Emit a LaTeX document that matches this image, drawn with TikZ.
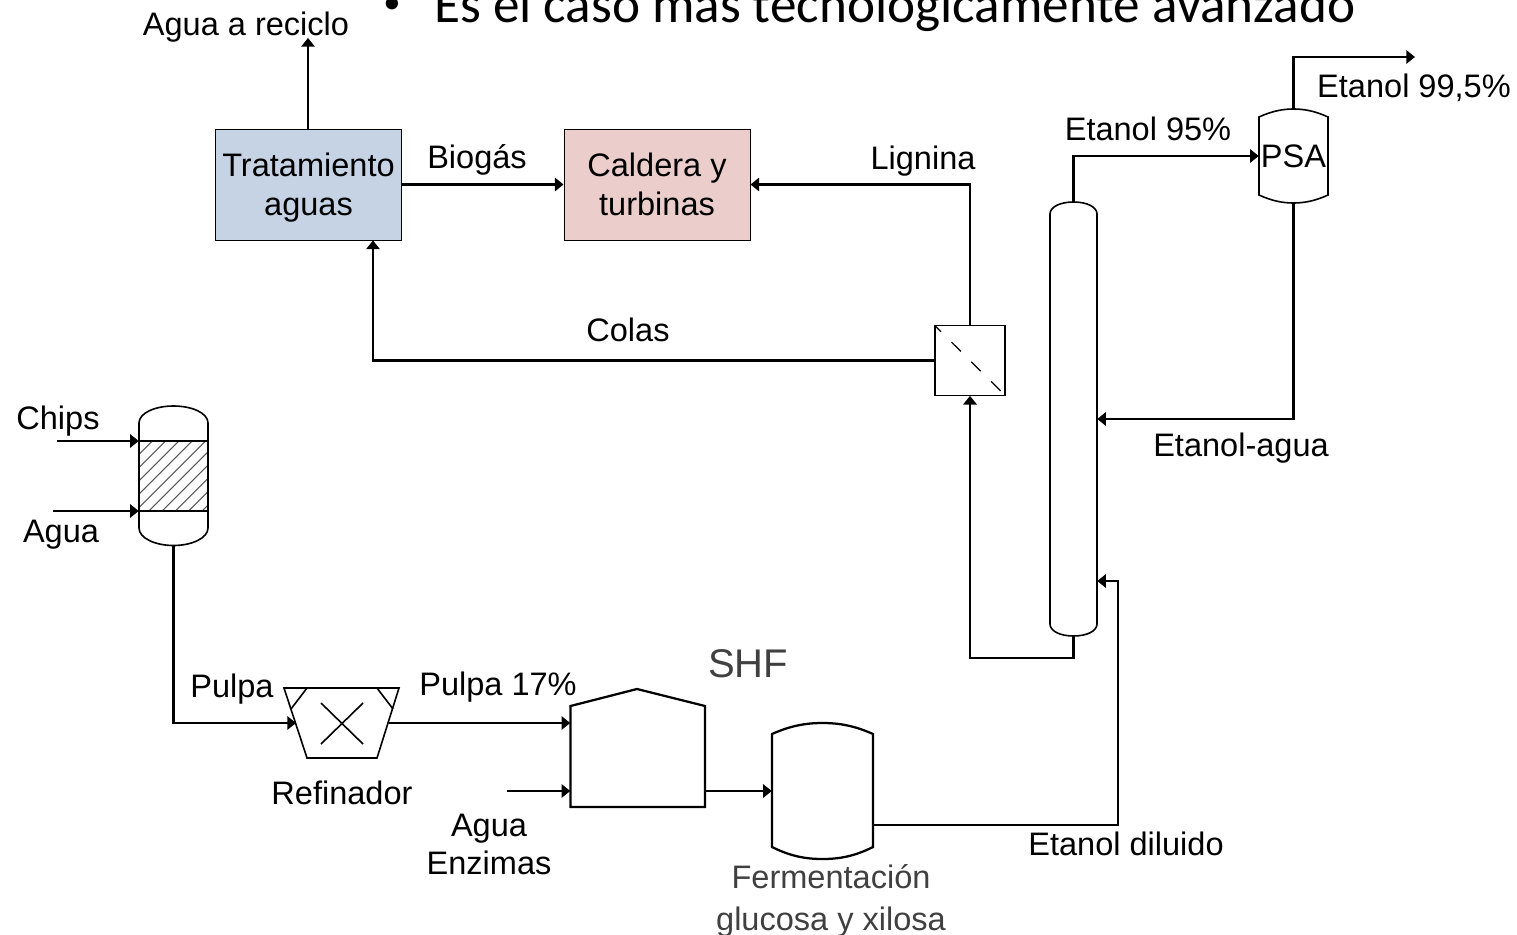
\documentclass[tikz,border=0pt]{standalone}
\usepackage{fontspec}
\setmainfont{Liberation Sans}
\newfontfamily\titlefont{Carlito}
\usetikzlibrary{arrows.meta}
\tikzset{
  x=0.75pt,y=-0.75pt,
  lbl/.style={inner sep=0pt,align=center,text=black,font=\fontsize{24.4}{29}\selectfont},
  graylbl/.style={lbl,text=black!75},
  flow/.style={line width=1.8pt,line join=miter},
  arrowflow/.style={flow,-{Triangle[length=6.5pt,width=10pt]}},
  vessel/.style={line width=1.2pt,draw=black,line join=miter},
  vbox/.style 2 args={inner sep=0pt,minimum width=#1*0.75pt,minimum height=#2*0.75pt},
  procbox/.style={draw=black,line width=0.7pt,inner sep=0pt,minimum width=139.5pt,minimum height=83.25pt,align=center,text depth=0pt,font=\fontsize{24.4}{29}\selectfont},
  hatchline/.style={line width=0.8pt,draw=black!65},
}
\begin{document}
\begin{tikzpicture}
\useasboundingbox (0,0) rectangle (1517,935);
\fill[white] (0,0) rectangle (1517,935);
% heading
\node[anchor=base west,inner sep=0pt,font=\titlefont\fontsize{26}{30}\selectfont] (bul) at (383,13) {•};
\node[anchor=base west,inner sep=0pt,font=\titlefont\fontsize{39.9}{48}\selectfont] (head) at (434,22) {Es el caso más tecnológicamente avanzado};

% unit frames (named, outline drawn below)
\node[vbox={69}{139}] (dig) at (173.5,475.5) {};
\node[vbox={92}{70}] (ref) at (342,723) {};
\node[vbox={134.5}{118}] (shf) at (637.75,748) {};
\node[vbox={101}{136}] (fer) at (822.5,791) {};
\node[vbox={47}{434}] (col) at (1073.5,419) {};
\node[vbox={69}{94}] (psa) at (1293.5,156) {};
\node[draw=black,line width=0.9pt,vbox={70}{69.5}] (fil) at (970,360.5) {};
\node[procbox,fill={rgb,255:red,197;green,211;blue,229}] (tra) at (308.5,184.5) {Tratamiento\\aguas};
\node[procbox,fill={rgb,255:red,235;green,205;blue,203}] (cal) at (657,184.5) {Caldera y\\turbinas};
\node[lbl,inner sep=0pt] (psat) at (1293.5,156) {PSA};

% digester
\begin{scope}
\clip (139,441) rectangle (208,511);
\foreach \k in {0,...,11} \draw[hatchline] (139-70+\k*13.3,511) -- ++(80,-80);
\end{scope}
\draw[vessel] (139,423) .. controls (139,413) and (155,406) .. (173.5,406) .. controls (192,406) and (208,413) .. (208,423) -- (208,528) .. controls (208,538) and (192,545.5) .. (173.5,545.5) .. controls (155,545.5) and (139,538) .. (139,528) -- cycle;
\draw[vessel] (139,441) -- (208,441) (139,511) -- (208,511);
% refiner
\draw[vessel] (284,688) -- (399,688) -- (377,758) -- (307,758) -- cycle;
\draw[vessel] (307,688) -- (291,709) (377,688) -- (393,709);
\draw[vessel] (321,703) -- (363,744) (363,703) -- (321,744);
% SHF tank
\draw[vessel,line width=1.7pt] (570.5,706) -- (637,689) -- (705,706) -- (705,807) -- (570.5,807) -- cycle;
% fermenter
\draw[vessel,line width=1.7pt] (772,734) .. controls (790,726) and (805,723) .. (822.5,723) .. controls (840,723) and (855,726) .. (873,734) -- (873,847) .. controls (855,856) and (840,859) .. (822.5,859) .. controls (805,859) and (790,856) .. (772,847) -- cycle;
% column
\draw[vessel] (1050,214) .. controls (1050,207) and (1060,202) .. (1073.5,202) .. controls (1087,202) and (1097,207) .. (1097,214) -- (1097,624) .. controls (1097,631) and (1087,636) .. (1073.5,636) .. controls (1060,636) and (1050,631) .. (1050,624) -- cycle;
% PSA
\draw[vessel] (1259,117) .. controls (1272,111) and (1283,109) .. (1293.5,109) .. controls (1304,109) and (1315,111) .. (1328,117) -- (1328,195) .. controls (1315,201) and (1304,203) .. (1293.5,203) .. controls (1283,203) and (1272,201) .. (1259,195) -- cycle;
% membrane
\draw[line width=0.9pt,dash pattern=on 10pt off 11pt,dash phase=3pt] (fil.north west) -- (fil.south east);

% free ends
\coordinate (chipsin) at (57,441);
\coordinate (aguain) at (53,511);
\coordinate (aguaenz) at (507,791);
\coordinate (reciclo) at (308,38);
\coordinate (prod) at (1415,57);

% connectors
\draw[arrowflow] (chipsin) -- (chipsin -| dig.west);
\draw[arrowflow] (aguain) -- (aguain -| dig.west);
\draw[arrowflow] (dig.south) -- (173.5,723) -- (296,723);
\draw[arrowflow] (389,723) -- (shf.west |- 389,723);
\draw[arrowflow] (aguaenz) -- (aguaenz -| shf.west);
\draw[arrowflow] (shf.east |- 0,791) -- (fer.west);
\draw[arrowflow] (fer.east |- 0,825) -- (1118,825) -- (1118,581) -- (col.east |- 0,581);
\draw[arrowflow] (col.south) -- (1073.5,658) -- (970,658) -- (fil.south);
\draw[arrowflow] (fil.north) -- (970,184.5) -- (cal.east);
\draw[arrowflow] (fil.west) -- (373,360.5) -- (tra.south -| 373,0);
\draw[arrowflow] (tra.east) -- (cal.west);
\draw[arrowflow] (tra.north -| reciclo) -- (reciclo);
\draw[arrowflow] (col.north) -- (1073.5,156) -- (psa.west);
\draw[arrowflow] (psa.north) -- (1293.5,57) -- (prod);
\draw[arrowflow] (psa.south) -- (1293.5,419) -- (col.east |- 0,419);

% labels
\node[lbl] (l1) at (246,27) {Agua a reciclo};
\node[lbl] (l2) at (477,160) {Biogás};
\node[lbl] (l3) at (923,161) {Lignina};
\node[lbl] (l4) at (628,330) {Colas};
\node[lbl] (l5) at (1148,129) {Etanol 95\%};
\node[lbl] (l6) at (1414,88) {Etanol 99,5\%};
\node[lbl] (l7) at (1241,448) {Etanol-agua};
\node[lbl] (l8) at (58,421) {Chips};
\node[lbl] (l9) at (61,535) {Agua};
\node[lbl] (l10) at (232,689) {Pulpa};
\node[lbl] (l11) at (498,687) {Pulpa 17\%};
\node[graylbl,font=\fontsize{30}{36}\selectfont] (l12) at (748,664) {SHF};
\node[lbl] (l13) at (342,793) {Refinador};
\node[lbl] (l14) at (489,844.5) {Agua\\Enzimas};
\node[graylbl] (l15) at (831,901) {Fermentación\\[2pt]glucosa y xilosa};
\node[lbl] (l16) at (1126,844) {Etanol diluido};
\end{tikzpicture}
\end{document}
